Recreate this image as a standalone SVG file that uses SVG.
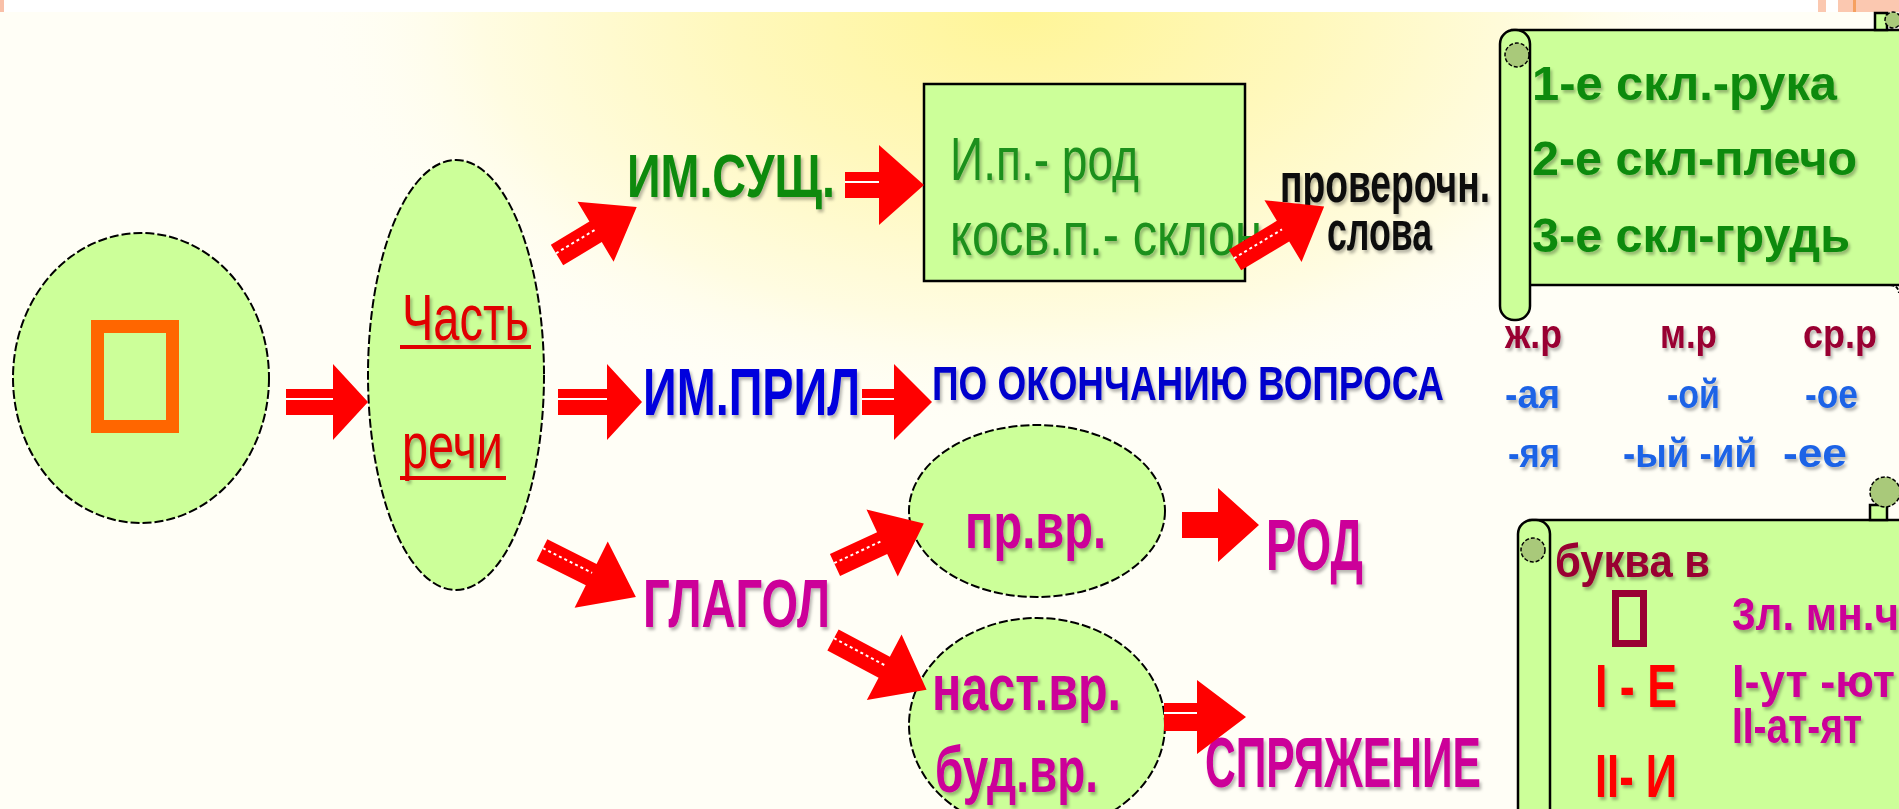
<svg xmlns="http://www.w3.org/2000/svg" width="1899" height="809" viewBox="0 0 1899 809">
<defs>
<radialGradient id="glow" gradientUnits="userSpaceOnUse" cx="0" cy="0" r="1" gradientTransform="translate(1020 10) scale(720 420)">
<stop offset="0" stop-color="#FFF597"/>
<stop offset="0.4" stop-color="#FFF8BC"/>
<stop offset="0.75" stop-color="#FFFCE2"/>
<stop offset="1" stop-color="#FFFEF6" stop-opacity="0"/>
</radialGradient>
<filter id="sh" x="-10%" y="-30%" width="125%" height="170%">
<feDropShadow dx="2" dy="3" stdDeviation="1.5" flood-color="#000" flood-opacity="0.28"/>
</filter>
</defs>
<style>
.node{fill:#CCFF99;stroke:#000;stroke-width:2;stroke-dasharray:9 3}
.box{fill:#CCFF99;stroke:#000;stroke-width:2.5}
.curl{fill:#A9C97A;stroke:#000;stroke-width:1.5;stroke-dasharray:4 2}
.arr{fill:#FF0000}
.sl{stroke:#FFFFFF;stroke-width:2;fill:none}
.sd{stroke:#FFFFFF;stroke-width:2;fill:none;stroke-dasharray:3 3}
text{font-family:"Liberation Sans",Arial,sans-serif;filter:url(#sh)}
.b{font-weight:bold}
.red{fill:#E00000}
.grn{fill:#0A8A0A}
.lgrn{fill:#1E901E}
.blue{fill:#0000DD}
.mag{fill:#CC0099}
.dred{fill:#990033}
.lblue{fill:#1E63E6}
.blk{fill:#111111}
</style>

<g id="background">
<rect x="0" y="0" width="1899" height="809" fill="#FFFEF6"/>
<rect x="0" y="0" width="1899" height="809" fill="url(#glow)"/>
<rect x="0" y="0" width="1899" height="12" fill="#FFFFFF"/>
<rect x="0" y="0" width="4" height="12" fill="#F9C0A8"/>
<rect x="1818" y="0" width="8" height="12" fill="#FBC8B0"/>
<rect x="1838" y="0" width="61" height="12" fill="#FBC8B0"/>
<rect x="1853" y="0" width="3" height="12" fill="#F5A060"/>
</g>

<g id="node-square">
<ellipse class="node" cx="141" cy="378" rx="128" ry="145"/>
<rect x="97.5" y="326.5" width="75" height="100" fill="none" stroke="#FF6600" stroke-width="13"/>
</g>

<g id="node-chast-rechi">
<ellipse class="node" cx="456" cy="375" rx="88" ry="215"/>
<text class="red" x="402" y="340" font-size="64" textLength="127" lengthAdjust="spacingAndGlyphs">Часть</text>
<rect class="red" x="400" y="345" width="131" height="4"/>
<text class="red" x="402" y="468" font-size="64" textLength="101" lengthAdjust="spacingAndGlyphs">речи</text>
<rect class="red" x="400" y="476" width="106" height="4"/>
</g>

<g id="node-im-sush">
<text class="b grn" x="627" y="197" font-size="61" textLength="208" lengthAdjust="spacingAndGlyphs">ИМ.СУЩ.</text>
</g>

<g id="node-im-pril">
<text class="b blue" x="643" y="415" font-size="66" textLength="217" lengthAdjust="spacingAndGlyphs">ИМ.ПРИЛ</text>
</g>

<g id="node-glagol">
<text class="b mag" x="643" y="627" font-size="68" textLength="187" lengthAdjust="spacingAndGlyphs">ГЛАГОЛ</text>
</g>

<g id="node-box">
<rect class="box" x="924" y="84" width="321" height="197"/>
<text class="lgrn" x="950" y="180" font-size="62" textLength="189" lengthAdjust="spacingAndGlyphs">И.п.- род</text>
<text class="lgrn" x="950" y="255" font-size="62" textLength="312" lengthAdjust="spacingAndGlyphs">косв.п.- склон</text>
</g>

<g id="node-proverochn">
<text class="b blk" x="1280" y="202" font-size="56" textLength="210" lengthAdjust="spacingAndGlyphs">проверочн.</text>
<text class="b blk" x="1327" y="250" font-size="56" textLength="105" lengthAdjust="spacingAndGlyphs">слова</text>
</g>

<g id="node-po-okonchaniyu">
<text class="b" fill="#0000CC" x="932" y="400" font-size="49" textLength="512" lengthAdjust="spacingAndGlyphs">ПО ОКОНЧАНИЮ ВОПРОСА</text>
</g>

<g id="node-pr-vr">
<ellipse class="node" cx="1037" cy="511" rx="128" ry="86"/>
<text class="b mag" x="965" y="548" font-size="64" textLength="141" lengthAdjust="spacingAndGlyphs">пр.вр.</text>
</g>

<g id="node-nast-vr">
<ellipse class="node" cx="1037" cy="725" rx="128" ry="107"/>
<text class="b mag" x="932" y="710" font-size="64" textLength="189" lengthAdjust="spacingAndGlyphs">наст.вр.</text>
<text class="b mag" x="935" y="792" font-size="64" textLength="163" lengthAdjust="spacingAndGlyphs">буд.вр.</text>
</g>

<g id="node-rod">
<text class="b mag" x="1266" y="570" font-size="72" textLength="97" lengthAdjust="spacingAndGlyphs">РОД</text>
</g>

<g id="node-spryazhenie">
<text class="b mag" x="1205" y="787" font-size="70" textLength="276" lengthAdjust="spacingAndGlyphs">СПРЯЖЕНИЕ</text>
</g>

<g id="node-scroll-skl">
<rect class="box" x="1512" y="30" width="400" height="255"/>
<rect class="box" x="1875" y="13" width="12" height="17"/>
<circle class="curl" cx="1893" cy="20" r="8"/>
<path d="M1890,285 q8,0 9,8" fill="none" stroke="#000" stroke-width="2" stroke-dasharray="4 2"/>
<rect class="box" x="1500" y="30" width="30" height="290" rx="14"/>
<circle class="curl" cx="1517" cy="55" r="12"/>
<text class="b grn" x="1532" y="100" font-size="49" textLength="305" lengthAdjust="spacingAndGlyphs">1-е скл.-рука</text>
<text class="b grn" x="1532" y="175" font-size="49" textLength="325" lengthAdjust="spacingAndGlyphs">2-е скл-плечо</text>
<text class="b grn" x="1532" y="252" font-size="49" textLength="318" lengthAdjust="spacingAndGlyphs">3-е скл-грудь</text>
</g>

<g id="node-endings">
<text class="b dred" x="1505" y="348" font-size="40" textLength="57" lengthAdjust="spacingAndGlyphs">ж.р</text>
<text class="b dred" x="1660" y="348" font-size="40" textLength="57" lengthAdjust="spacingAndGlyphs">м.р</text>
<text class="b dred" x="1803" y="348" font-size="40" textLength="74" lengthAdjust="spacingAndGlyphs">ср.р</text>
<text class="b lblue" x="1505" y="408" font-size="40" textLength="55" lengthAdjust="spacingAndGlyphs">-ая</text>
<text class="b lblue" x="1667" y="408" font-size="40" textLength="53" lengthAdjust="spacingAndGlyphs">-ой</text>
<text class="b lblue" x="1805" y="408" font-size="40" textLength="53" lengthAdjust="spacingAndGlyphs">-ое</text>
<text class="b lblue" x="1508" y="467" font-size="40" textLength="52" lengthAdjust="spacingAndGlyphs">-яя</text>
<text class="b lblue" x="1623" y="467" font-size="40" textLength="134" lengthAdjust="spacingAndGlyphs">-ый -ий</text>
<text class="b lblue" x="1783" y="467" font-size="40" textLength="64" lengthAdjust="spacingAndGlyphs">-ее</text>
</g>

<g id="node-scroll-spr">
<rect class="box" x="1530" y="520" width="400" height="320"/>
<rect class="box" x="1870" y="505" width="17" height="15"/>
<circle class="curl" cx="1885" cy="492" r="15"/>
<rect class="box" x="1518" y="520" width="32" height="320" rx="14"/>
<circle class="curl" cx="1533" cy="550" r="12"/>
<text class="b dred" x="1555" y="577" font-size="46" textLength="155" lengthAdjust="spacingAndGlyphs">буква в</text>
<rect x="1615.5" y="593.5" width="28" height="50" fill="none" stroke="#990033" stroke-width="7"/>
<text class="b" fill="#FF0000" x="1595" y="707" font-size="61" textLength="82" lengthAdjust="spacingAndGlyphs">I - Е</text>
<text class="b" fill="#FF0000" x="1595" y="797" font-size="61" textLength="82" lengthAdjust="spacingAndGlyphs">II- И</text>
<text class="b mag" x="1732" y="630" font-size="46" textLength="167" lengthAdjust="spacingAndGlyphs">3л. мн.ч</text>
<text class="b mag" x="1732" y="697" font-size="47" textLength="163" lengthAdjust="spacingAndGlyphs">I-ут -ют</text>
<text class="b mag" x="1732" y="743" font-size="50" textLength="130" lengthAdjust="spacingAndGlyphs">II-ат-ят</text>
</g>

<g id="connectors">
<g transform="translate(286,402)"><path class="arr" d="M0,-13H47V-38L82,0L47,38V13H0Z"/><path class="sl" d="M0,-3H47"/></g>
<g transform="translate(557,255) rotate(-31)"><path class="arr" d="M0,-12H45V-35L93,0L45,35V12H0Z"/><path class="sd" d="M0,-2H45"/></g>
<g transform="translate(558,402)"><path class="arr" d="M0,-13H49V-38L84,0L49,38V13H0Z"/><path class="sl" d="M0,-3H49"/></g>
<g transform="translate(542,550) rotate(26.6)"><path class="arr" d="M0,-12H55V-37L105,0L55,37V12H0Z"/><path class="sd" d="M0,-2H55"/></g>
<g transform="translate(845,185)"><path class="arr" d="M0,-13H34V-40L79,0L34,40V13H0Z"/><path class="sl" d="M0,-3H34"/></g>
<g transform="translate(862,402)"><path class="arr" d="M0,-13H32V-38L70,0L32,38V13H0Z"/><path class="sl" d="M0,-3H32"/></g>
<g transform="translate(1235,260) rotate(-31)"><path class="arr" d="M0,-12H56V-36L104,0L56,36V12H0Z"/><path class="sd" d="M0,-2H56"/></g>
<g transform="translate(835,565) rotate(-25)"><path class="arr" d="M0,-12H52V-37L98,0L52,37V12H0Z"/><path class="sd" d="M0,-2H52"/></g>
<g transform="translate(833,640) rotate(28)"><path class="arr" d="M0,-12H58V-37L106,0L58,37V12H0Z"/><path class="sd" d="M0,-2H58"/></g>
<g transform="translate(1182,525)"><path class="arr" d="M0,-13H36V-37L77,0L36,37V13H0Z"/></g>
<g transform="translate(1164,717)"><path class="arr" d="M0,-14H33V-37L82,0L33,37V14H0Z"/><path class="sl" d="M0,-4H33"/></g>
</g>
</svg>
